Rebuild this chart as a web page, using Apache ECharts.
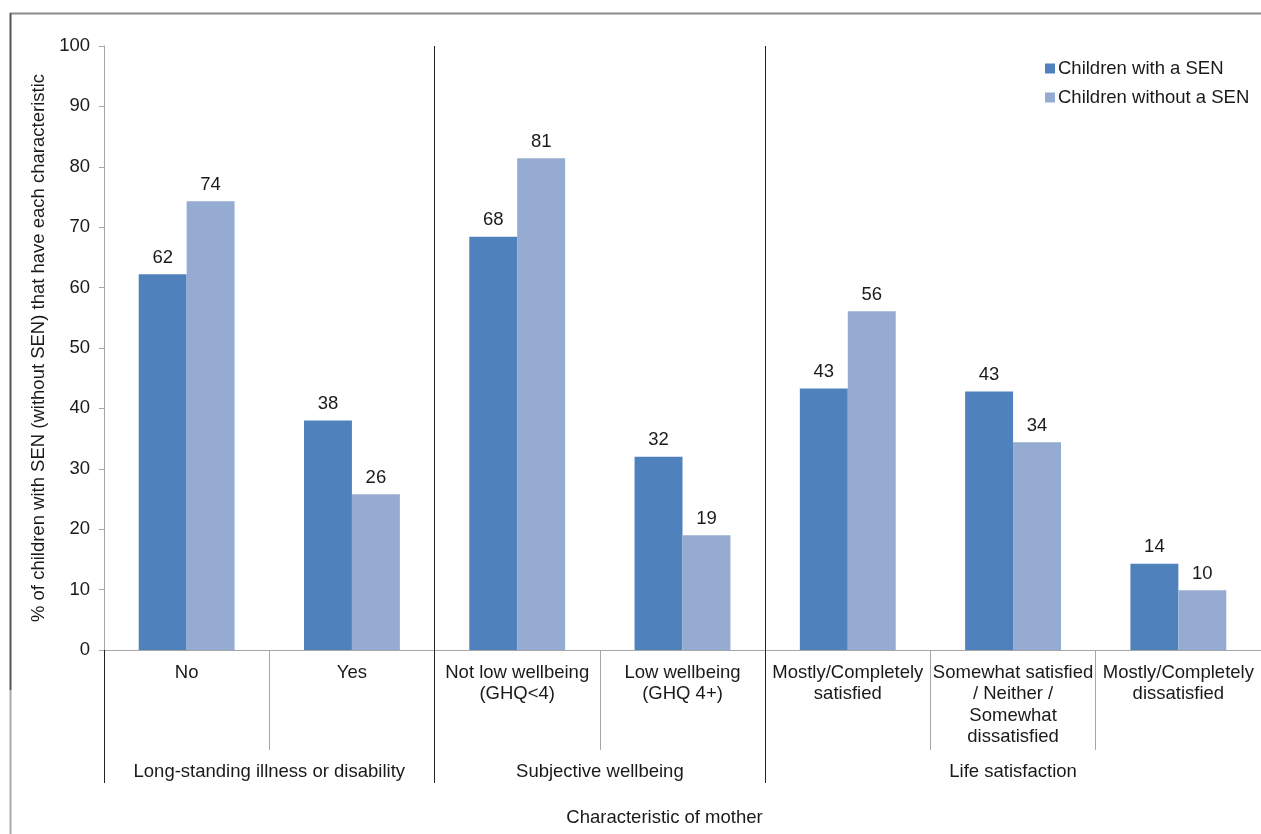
<!DOCTYPE html>
<html>
<head>
<meta charset="utf-8">
<script src="https://cdn.jsdelivr.net/npm/echarts@6/dist/echarts.min.js"></script>
<style>
html,body{margin:0;padding:0;background:#fff;}
#chart{width:1261px;height:834px;}
</style>
</head>
<body>
<div id="chart"></div>
<script>
const categories = [
  'No',
  'Yes',
  'Not low wellbeing\n(GHQ<4)',
  'Low wellbeing\n(GHQ 4+)',
  'Mostly/Completely\nsatisfied',
  'Somewhat satisfied\n/ Neither /\nSomewhat\ndissatisfied',
  'Mostly/Completely\ndissatisfied'
];
const groupNames = ['Long-standing illness or disability', 'Subjective wellbeing', 'Life satisfaction'];
const groupCenters = [1, 3, 5.5];
const groupBoundaries = [0, 2, 4];
const seriesNames = ['Children with a SEN', 'Children without a SEN'];
const withSEN = [62.2, 38.0, 68.4, 32.0, 43.3, 42.8, 14.3];
const withoutSEN = [74.3, 25.8, 81.4, 19.0, 56.1, 34.4, 9.9];
const yTicks = [0, 10, 20, 30, 40, 50, 60, 70, 80, 90, 100];

const FONT = 'Liberation Sans, Arial, sans-serif';
const FS = 18.5;
const chart = echarts.init(document.getElementById('chart'));

const labelCfg = {
  show: true, position: 'top', distance: 7,
  fontFamily: FONT, fontSize: FS, color: '#1a1a1a',
  formatter: p => Math.round(p.value)
};

chart.setOption({
  animation: false,
  backgroundColor: '#fff',
  graphic: [
    { type: 'line', shape: { x1: 10, y1: 13.5, x2: 1261, y2: 13.5 }, style: { stroke: '#8c8c8c', lineWidth: 2 } },
    { type: 'line', shape: { x1: 10.5, y1: 13, x2: 10.5, y2: 690 }, style: { stroke: '#555', lineWidth: 2 } },
    { type: 'line', shape: { x1: 10.5, y1: 690, x2: 10.5, y2: 834 }, style: { stroke: '#aaa', lineWidth: 2 } }
  ],
  legend: {
    orient: 'vertical', left: 1040, top: 54,
    itemWidth: 10, itemHeight: 10, itemGap: 10,
    icon: 'rect',
    textStyle: { fontFamily: FONT, fontSize: FS, color: '#1a1a1a', padding: [0, 0, 0, -2] },
    data: seriesNames
  },
  grid: { left: 104, right: -2, top: 46, bottom: 184, containLabel: false },
  xAxis: [
    {
      type: 'category', data: categories, position: 'bottom',
      axisLine: { show: true, lineStyle: { color: '#a6a6a6', width: 1 } },
      axisTick: { show: true, interval: 0, length: 100, lineStyle: { color: '#a6a6a6' } },
      axisLabel: { interval: 0, margin: 12, fontFamily: FONT, fontSize: FS, color: '#1a1a1a', lineHeight: 21.5 },
      splitLine: { show: false }
    },
    {
      type: 'value', min: 0, max: 7, position: 'bottom',
      axisLine: { show: false },
      axisTick: { show: true, length: 133, customValues: groupBoundaries, lineStyle: { color: '#222' } },
      axisLabel: {
        margin: 112, customValues: groupCenters, fontFamily: FONT, fontSize: FS, color: '#1a1a1a',
        formatter: v => groupNames[groupCenters.indexOf(v)] || ''
      },
      splitLine: { show: false },
      name: 'Characteristic of mother', nameLocation: 'middle', nameGap: 158,
      nameTextStyle: { fontFamily: FONT, fontSize: FS, color: '#1a1a1a', padding: [0, 36, 0, 0] }
    }
  ],
  yAxis: {
    type: 'value', min: 0, max: 100, interval: 10,
    axisLine: { show: true, lineStyle: { color: '#a6a6a6' } },
    axisTick: { show: true, length: 5, lineStyle: { color: '#a6a6a6' } },
    axisLabel: { margin: 14, fontFamily: FONT, fontSize: FS, color: '#1a1a1a',
      formatter: v => yTicks.includes(v) ? String(v) : '' },
    splitLine: { show: false },
    name: '% of children with SEN (without SEN) that have each characteristic',
    nameLocation: 'middle', nameGap: 56, nameRotate: 90,
    nameTextStyle: { fontFamily: FONT, fontSize: FS, color: '#1a1a1a' }
  },
  series: [
    {
      name: seriesNames[0], type: 'bar', data: withSEN, xAxisIndex: 0,
      barGap: '0%', barCategoryGap: '42%',
      itemStyle: { color: '#4F81BD' }, label: labelCfg
    },
    {
      name: seriesNames[1], type: 'bar', data: withoutSEN, xAxisIndex: 0,
      barGap: '0%', barCategoryGap: '42%',
      itemStyle: { color: '#95ABD1' }, label: labelCfg
    },
    {
      name: 'separators', type: 'line', xAxisIndex: 1, data: [],
      silent: true, showSymbol: false,
      markLine: {
        silent: true, symbol: 'none', label: { show: false },
        lineStyle: { color: '#222', type: 'solid', width: 1 },
        data: groupBoundaries.filter(b => b > 0).map(b => ({ xAxis: b }))
      }
    }
  ]
});
</script>
</body>
</html>
